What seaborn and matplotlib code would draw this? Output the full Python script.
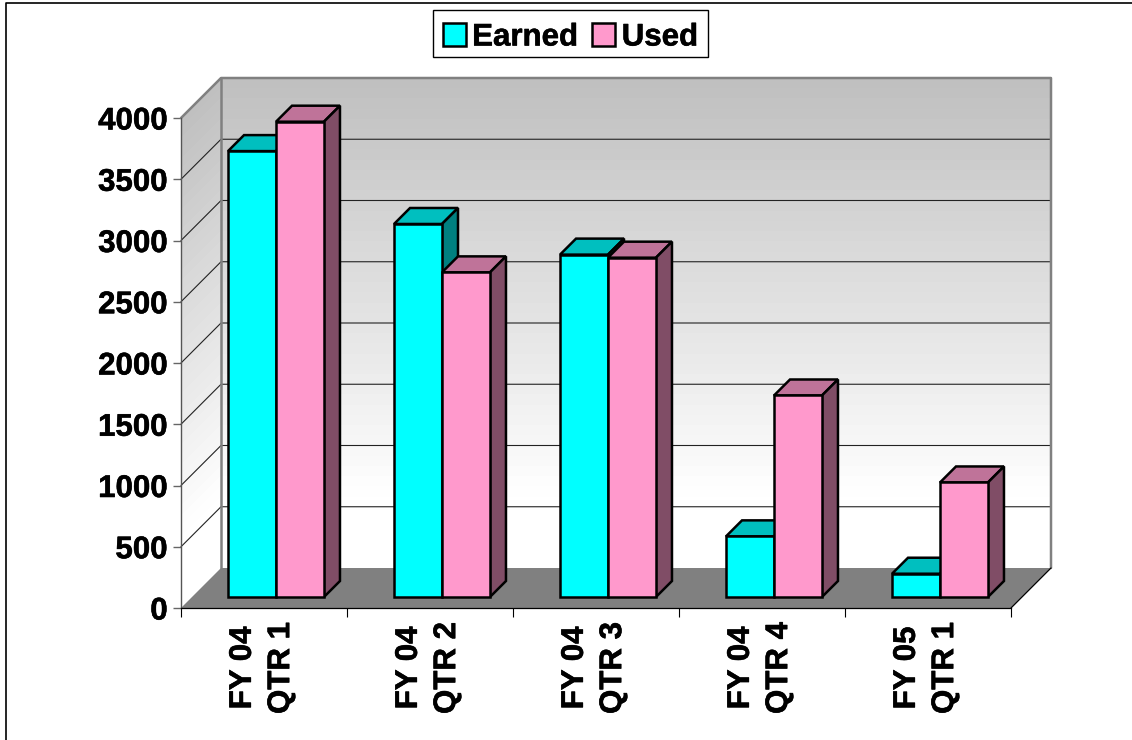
import matplotlib
matplotlib.use('Agg')
import matplotlib.pyplot as plt
import matplotlib.patheffects as pe
from matplotlib.lines import Line2D
from matplotlib.patches import Polygon, Rectangle
import numpy as np
import pandas as pd
import seaborn as sns

categories = ['FY 04\nQTR 1', 'FY 04\nQTR 2', 'FY 04\nQTR 3', 'FY 04\nQTR 4', 'FY 05\nQTR 1']
earned = [3640, 3045, 2795, 495, 190]
used = [3880, 2650, 2770, 1645, 935]
y_ticks = [0, 500, 1000, 1500, 2000, 2500, 3000, 3500, 4000]

df = pd.DataFrame({'period': categories, 'Earned': earned, 'Used': used})
df = df.melt(id_vars='period', var_name='kind', value_name='value')

sns.set_style('white')
plt.rcParams['font.family'] = ['Liberation Sans', 'DejaVu Sans']
plt.rcParams['font.weight'] = 'bold'
plt.rcParams['text.color'] = 'black'

W, H = 1132, 740
PX_X = 166.0       # pixels per category
PX_Y = 490 / 4000  # pixels per unit
fig = plt.figure(figsize=(W / 100, H / 100), dpi=100)
ax = fig.add_axes([181 / W, (H - 608) / H, 830 / W, 490 / H])

# 3d offsets in data units
wall_dx, wall_dy = 40 / PX_X, 40 / PX_Y
bar_dx, bar_dy = 16 / PX_X, 16 / PX_Y
base_x, base_y = 12 / PX_X, 11 / PX_Y
x0, x1 = -0.5, 4.5

# walls
fade = np.clip(0.75 + 0.25 * np.linspace(0, 1, 48) / 0.87, 0, 1)[:, None]
heights = np.linspace(4000, 0, 49)
ax.pcolormesh([x0 + wall_dx, x1 + wall_dx], heights + wall_dy, fade, cmap='gray', vmin=0, vmax=1,
              zorder=0.5, clip_on=False)
ax.pcolormesh(np.array([[x0, x0 + wall_dx]] * 49), np.column_stack([heights, heights + wall_dy]), fade,
              cmap='gray', vmin=0, vmax=1, zorder=0.5, clip_on=False)

# floor
ax.add_patch(Polygon([(x0, 0), (x1, 0), (x1 + wall_dx, wall_dy), (x0 + wall_dx, wall_dy)],
                     facecolor='#808080', edgecolor='none', zorder=1, clip_on=False))

# gridlines
for v in y_ticks[1:-1]:
    ax.plot([x0, x0 + wall_dx, x1 + wall_dx], [v, v + wall_dy, v + wall_dy], color='#222222', lw=0.8,
            zorder=1.2, clip_on=False)
ax.plot([x0, x0 + wall_dx, x1 + wall_dx, x1 + wall_dx], [4000, 4000 + wall_dy, 4000 + wall_dy, wall_dy],
        color='#808080', lw=1.8, zorder=1.3, clip_on=False)
ax.plot([x0 + wall_dx, x0 + wall_dx], [4000 + wall_dy, wall_dy], color='#808080', lw=1.8, zorder=1.3, clip_on=False)
ax.plot([x1, x1 + wall_dx], [0, wall_dy], color='black', lw=0.9, zorder=1.4, clip_on=False)

sns.barplot(data=df, x='period', y='value', hue='kind', order=categories, hue_order=['Earned', 'Used'],
            palette=['#00FFFF', '#FF99CC'], width=0.578, gap=0, saturation=1, edgecolor='black', linewidth=1.8,
            errorbar=None, ax=ax)

tops = {'Earned': '#00BFBF', 'Used': '#BF7399'}
sides = {'Earned': '#008080', 'Used': '#804D66'}
for cont, name in zip(ax.containers, ['Earned', 'Used']):
    for p in cont:
        p.set_x(p.get_x() + base_x)
        p.set_y(base_y)
        p.set_zorder(3)
        p.set_clip_on(False)
        a, b = p.get_x(), p.get_x() + p.get_width()
        top = base_y + p.get_height()
        ax.add_patch(Polygon([(a, top), (b, top), (b + bar_dx, top + bar_dy), (a + bar_dx, top + bar_dy)],
                             facecolor=tops[name], edgecolor='black', lw=1.8, joinstyle='miter',
                             zorder=2.6, clip_on=False))
        ax.add_patch(Polygon([(b, base_y), (b + bar_dx, base_y + bar_dy), (b + bar_dx, top + bar_dy), (b, top)],
                             facecolor=sides[name], edgecolor='black', lw=1.8, joinstyle='miter',
                             zorder=2.6, clip_on=False))

ax.set_xlim(x0, x1)
ax.set_ylim(0, 4000)
ax.set_xlabel('')
ax.set_ylabel('')

# ticks sit on the category boundaries, labels in between
ax.set_xticks(np.arange(x0, x1 + 0.5, 1))
ax.set_xticklabels([])
ax.set_xticks(np.arange(5) - 2 / PX_X, minor=True)
ax.set_xticklabels(categories, minor=True, rotation=90, fontsize=22.5, fontweight='bold', va='top', ha='center',
                   multialignment='center', linespacing=1.36, color='black')
ax.tick_params(axis='x', which='major', bottom=True, length=6.5, width=0.8, color='black')
ax.tick_params(axis='x', which='minor', bottom=False, length=0, pad=10)
ax.set_yticks(y_ticks)
ax.set_yticklabels([str(v) for v in y_ticks], fontsize=22.5, fontweight='bold', color='black')
ax.tick_params(axis='y', left=True, length=5.8, width=1.0, color='#666666', pad=3.8)

for side in ['top', 'right']:
    ax.spines[side].set_visible(False)
ax.spines['left'].set_color('#555555')
ax.spines['left'].set_linewidth(1.0)
ax.spines['bottom'].set_color('black')
ax.spines['bottom'].set_linewidth(0.9)

# legend frame drawn apart, the entries sit a little low inside it
sns.move_legend(ax, 'center', bbox_to_anchor=(570.5 / W, (H - 37.5) / H), bbox_transform=fig.transFigure, ncol=2,
                title=None, frameon=False, fontsize=22.5, handlelength=0.74, handleheight=0.74, handletextpad=0.2,
                columnspacing=0.45, borderpad=0.22, borderaxespad=0)
fig.add_artist(Rectangle((433 / W, (H - 57) / H), 275 / W, 47 / H, transform=fig.transFigure, facecolor='white',
                         edgecolor='black', lw=1.0, zorder=-1))

# the source text is a bit heavier than Liberation bold
heavy = [pe.withStroke(linewidth=0.4, foreground='black')]
for t in ax.get_yticklabels() + ax.get_xticklabels(minor=True) + ax.get_legend().get_texts():
    t.set_color('black')
    t.set_path_effects(heavy)

# outer border, left and top only
fig.add_artist(Line2D([6 / W, 6 / W, 1], [0, (H - 2.5) / H, (H - 2.5) / H], color='black', lw=1.2))

fig.savefig('out.png', dpi=100)
